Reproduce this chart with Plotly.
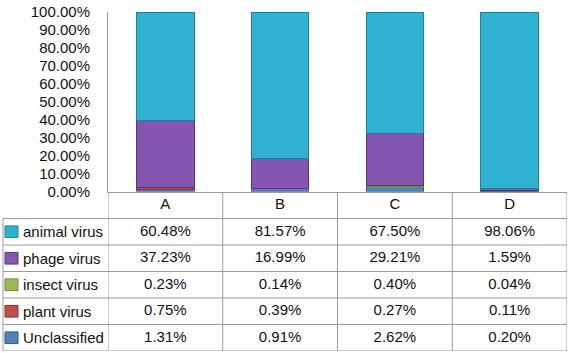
import plotly.graph_objects as go

W, H = 569, 353
def X(px): return px / W
def Y(py): return 1 - py / H

categories = ["A", "B", "C", "D"]
series_names = ["animal virus", "phage virus", "insect virus", "plant virus", "Unclassified"]
animal = [60.48, 81.57, 67.50, 98.06]
phage = [37.23, 16.99, 29.21, 1.59]
insect = [0.23, 0.14, 0.40, 0.04]
plant = [0.75, 0.39, 0.27, 0.11]
unclassified = [1.31, 0.91, 2.62, 0.20]
values = [animal, phage, insect, plant, unclassified]
colors = ["#2FB1D2", "#8456B0", "#9BBB59", "#C0504D", "#4F81BD"]
edge_colors = ["#1E7F99", "#5A3480", "#6E8A3A", "#8A2E2C", "#2F5A8E"]

FONT = "Liberation Sans"
fig = go.Figure()
xi = list(range(len(categories)))

# stacked bars, bottom to top
for k in [4, 3, 2, 1, 0]:
    fig.add_trace(go.Bar(
        x=xi, y=values[k], name=series_names[k],
        marker=dict(color=colors[k], line=dict(color=edge_colors[k], width=1)),
        xaxis="x", yaxis="y", showlegend=False, hoverinfo="skip"))

# table text
fig.add_trace(go.Scatter(
    x=xi, y=[0] * len(xi), text=categories, mode="text",
    textfont=dict(family=FONT, size=15, color="#111"),
    xaxis="x2", yaxis="y2", showlegend=False, hoverinfo="skip", cliponaxis=False))
for r, vals in enumerate(values):
    fig.add_trace(go.Scatter(
        x=xi, y=[r + 1] * len(xi), text=[f"{v:.2f}%" for v in vals], mode="text",
        textfont=dict(family=FONT, size=15, color="#111"),
        xaxis="x2", yaxis="y2", showlegend=False, hoverinfo="skip", cliponaxis=False))

shapes = []
grid = dict(color="#9A9A9A", width=1)
n = len(categories)
# horizontal table lines
for r in range(len(series_names) + 1):
    shapes.append(dict(type="line", xref="paper", yref="y2",
                       x0=X(3), x1=X(567), y0=r + 0.5, y1=r + 0.5, line=grid))
# vertical table lines
for c in range(n):
    shapes.append(dict(type="line", xref="x2", yref="y2",
                       x0=c + 0.5, x1=c + 0.5, y0=-0.5, y1=len(series_names) + 0.5, line=grid))
shapes.append(dict(type="line", xref="x2", yref="y2", x0=-0.5, x1=-0.5,
                   y0=-0.5, y1=len(series_names) + 0.5, line=grid))
shapes.append(dict(type="line", xref="paper", yref="y2", x0=X(3), x1=X(3),
                   y0=0.5, y1=len(series_names) + 0.5, line=grid))

annotations = []
for r, name in enumerate(series_names):
    shapes.append(dict(type="rect", xref="paper", yref="y2",
                       x0=X(5), x1=X(18), y0=r + 1 - 0.22, y1=r + 1 + 0.22,
                       fillcolor=colors[r], line=dict(color=edge_colors[r], width=1)))
    annotations.append(dict(text=name, xref="paper", yref="y2", x=X(21), y=r + 1,
                            xanchor="left", yanchor="middle", showarrow=False,
                            font=dict(family=FONT, size=15, color="#111")))

fig.update_layout(
    width=W, height=H, margin=dict(l=0, r=0, t=0, b=0, autoexpand=False),
    paper_bgcolor="white", plot_bgcolor="white",
    barmode="stack", bargap=0.5,
    xaxis=dict(domain=[X(108), X(567)], range=[-0.5, n - 0.5], showticklabels=False,
               showgrid=False, zeroline=False, showline=True, linecolor="#9A9A9A",
               linewidth=1, ticks="", fixedrange=True, automargin=False),
    yaxis=dict(domain=[Y(191.5), Y(12)], range=[0, 100], dtick=10,
               tickformat=".2f", ticksuffix="%", showgrid=False, zeroline=False,
               showline=True, linecolor="#9A9A9A", linewidth=1, ticks="",
               tickfont=dict(family=FONT, size=15, color="#111"), ticklabelstandoff=14,
               automargin=False),
    xaxis2=dict(domain=[X(108), X(567)], range=[-0.5, n - 0.5], visible=False,
                anchor="y2", automargin=False),
    yaxis2=dict(domain=[Y(351), Y(192)], range=[len(series_names) + 0.5, -0.5],
                visible=False, anchor="x2", automargin=False),
    shapes=shapes, annotations=annotations,
)
fig.write_html("out.html", config={"displayModeBar": False},
               post_script="document.body.style.margin='0';document.body.style.overflow='hidden';")
